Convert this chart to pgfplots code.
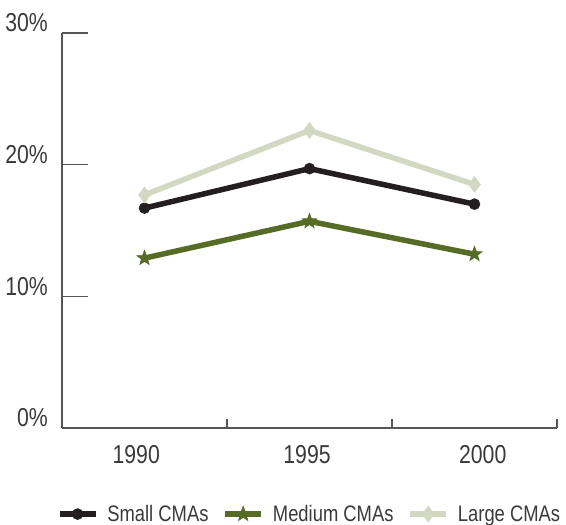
\documentclass[border=0pt]{standalone}
\usepackage{fontspec}
\setmainfont{Liberation Sans}[FakeStretch=0.82]
\usepackage{pgfplots}
\pgfplotsset{compat=1.18}
\usetikzlibrary{plotmarks}

\definecolor{smallc}{HTML}{231F20}
\definecolor{medc}{HTML}{566B25}
\definecolor{largec}{HTML}{D3D8C3}
\definecolor{axc}{HTML}{555555}
\definecolor{txt}{HTML}{3A3A3A}

% filled five-pointed star
\pgfdeclareplotmark{fivestar}{%
  \pgfpathmoveto{\pgfpointpolar{90}{\pgfplotmarksize}}%
  \pgfpathlineto{\pgfpointpolar{126}{0.42\pgfplotmarksize}}%
  \pgfpathlineto{\pgfpointpolar{162}{\pgfplotmarksize}}%
  \pgfpathlineto{\pgfpointpolar{198}{0.42\pgfplotmarksize}}%
  \pgfpathlineto{\pgfpointpolar{234}{\pgfplotmarksize}}%
  \pgfpathlineto{\pgfpointpolar{270}{0.42\pgfplotmarksize}}%
  \pgfpathlineto{\pgfpointpolar{306}{\pgfplotmarksize}}%
  \pgfpathlineto{\pgfpointpolar{342}{0.42\pgfplotmarksize}}%
  \pgfpathlineto{\pgfpointpolar{18}{\pgfplotmarksize}}%
  \pgfpathlineto{\pgfpointpolar{54}{0.42\pgfplotmarksize}}%
  \pgfpathclose
  \pgfusepathqfillstroke}

\begin{document}
\begin{tikzpicture}
\useasboundingbox (-62bp,-97bp) rectangle (504bp,428bp);
\begin{axis}[
  scale only axis,
  width=495bp, height=395bp,
  xmin=0, xmax=3, ymin=0, ymax=30,
  axis x line*=bottom, axis y line*=left,
  axis line style={axc, line width=1.3bp},
  tick align=inside,
  major tick length=26bp,
  ytick={0,10,20,30},
  yticklabels={0\%,10\%,20\%,30\%},
  ytick style={axc, line width=1.3bp},
  yticklabel style={anchor=east, inner sep=0pt, xshift=-14bp, yshift=10bp},
  xtick={0.45,1.485,2.55},
  xticklabels={1990,1995,2000},
  xtick style={draw=none},
  xticklabel style={anchor=north, inner sep=0pt, yshift=-17bp},
  extra x ticks={1,2,3},
  extra x tick labels={},
  extra x tick style={major tick length=9bp, xtick style={draw=axc, line width=1.3bp}},
  tick label style={font=\fontsize{26}{30}\selectfont, text=txt},
  legend columns=3,
  legend style={at={(0.5,-0.218)}, anchor=center, draw=none, fill=none,
    font=\fontsize{22.5}{26}\selectfont, text=txt,
    /tikz/every odd column/.append style={column sep=7bp},
    /tikz/every even column/.append style={column sep=12bp}},
  legend cell align=left,
  legend image code/.code={\draw[mark repeat=2,mark phase=2,#1] plot coordinates {(0bp,0bp)(18bp,0bp)(36bp,0bp)};},
  clip=false,
]
\addplot[smallc, line width=5.5bp, mark=*, mark size=5.5bp, mark options={line width=0.5bp}]
  coordinates {(0.5,16.7)(1.5,19.7)(2.5,17.0)};
\addlegendentry{Small CMAs}
\addplot[medc, line width=5.5bp, mark=fivestar, mark size=8bp, mark options={line width=0.5bp, fill=medc}]
  coordinates {(0.5,12.9)(1.5,15.7)(2.5,13.2)};
\addlegendentry{Medium CMAs}
\addplot[largec, line width=5.5bp, mark=diamond*, mark size=8bp, mark options={line width=0.5bp, fill=largec}]
  coordinates {(0.5,17.7)(1.5,22.6)(2.5,18.5)};
\addlegendentry{Large CMAs}
\end{axis}
\end{tikzpicture}
\end{document}
